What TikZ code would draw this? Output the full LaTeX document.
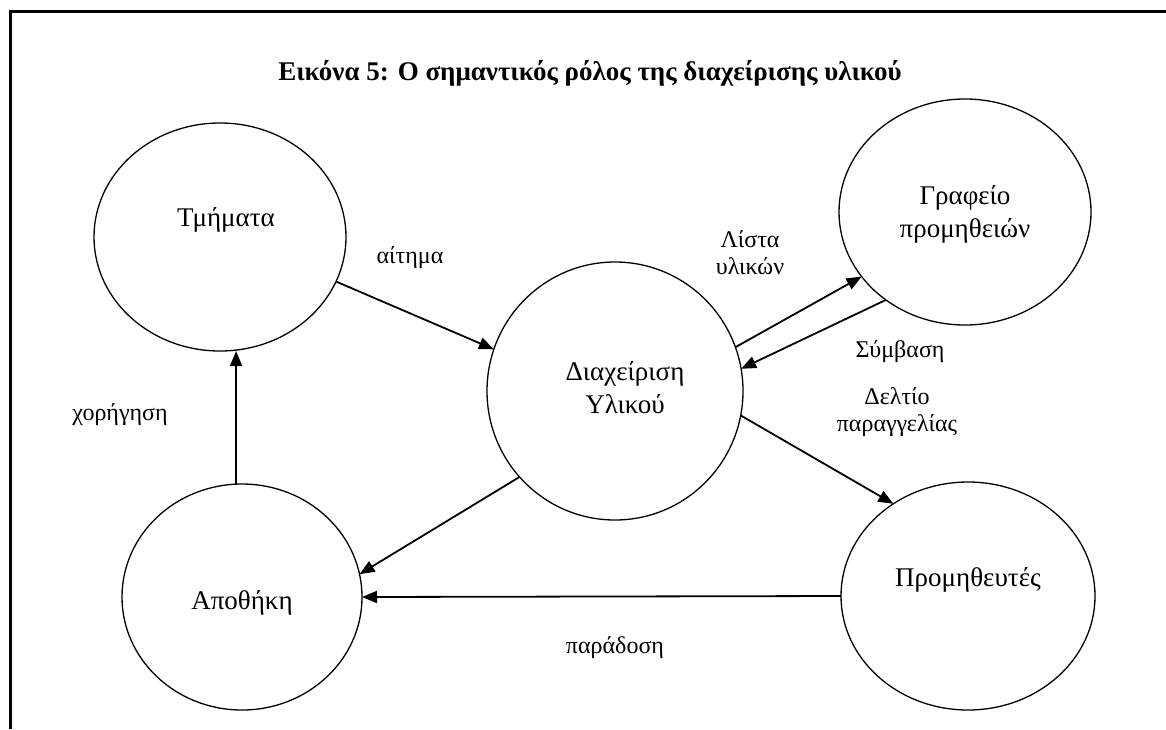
\documentclass[tikz,border=0pt]{standalone}
\usepackage{fontspec}
\setmainfont{Liberation Serif}
\usetikzlibrary{shapes.geometric,arrows.meta}

\tikzset{
  blob/.style={draw, ellipse, line width=1.3pt, inner sep=0pt, outer sep=0pt},
  flow/.style={-{Triangle[length=15pt,width=12pt]}, line width=1.8pt},
  tag/.style={font=\fontsize{24}{27}\selectfont, align=center},
  big/.style={font=\fontsize{27}{33}\selectfont, align=center}
}

\begin{document}
\begin{tikzpicture}[x=1pt,y=-1pt]%
    \useasboundingbox (0,0) rectangle (1166,729);
    \draw[line width=3pt] (10,729) -- (10,11) -- (1166,11);
    \node[font=\bfseries\fontsize{27}{32}\selectfont, anchor=base] (title) at (590,80) {Εικόνα 5: Ο σημαντικός ρόλος της διαχείρισης υλικού};

    % the five ellipses
    \node[blob, minimum width=252pt, minimum height=228pt] (dept) at (220,237) {};
    \node[blob, minimum width=256pt, minimum height=258pt] (mgmt) at (615,391) {};
    \node[blob, minimum width=252pt, minimum height=226pt] (office) at (965,212) {};
    \node[blob, minimum width=240pt, minimum height=226pt] (store) at (242,597) {};
    \node[blob, minimum width=254pt, minimum height=228pt] (supp) at (968,596) {};

    \node[big] (deptname) at (226,220) {Τμήματα};
    \node[big] (mgmtname) at (625,388) {Διαχείριση\\Υλικού};
    \node[big] (officename) at (965,214) {Γραφείο\\προμηθειών};
    \node[big] (storename) at (242,603) {Αποθήκη};
    \node[big] (suppname) at (968,580) {Προμηθευτές};

    % connectors
    \draw[flow] (dept.-21.7) -- (mgmt.161.7);
    \draw[flow] (store.93.5) -- (store.93.5 |- dept.south);
    \draw[flow] (mgmt.20.8) -- (office.212.5);
    \draw[flow] (office.228) -- (mgmt.10.3);
    \draw[flow] (mgmt.-11.6) -- (supp.129);
    \draw[flow] (mgmt.222.6) -- (store.11.2);
    \draw[flow] (supp.west) -- (store.east);

    \node[tag] (ask) at (410,258) {αίτημα};
    \node[tag] (give) at (120,415) {χορήγηση};
    \node[tag] (list) at (750,253) {Λίστα\\υλικών};
    \node[tag] (deal) at (900,352) {Σύμβαση};
    \node[tag] (order) at (897,412) {Δελτίο\\παραγγελίας};
    \node[tag] (deliver) at (615,648) {παράδοση};
\end{tikzpicture}
\end{document}
